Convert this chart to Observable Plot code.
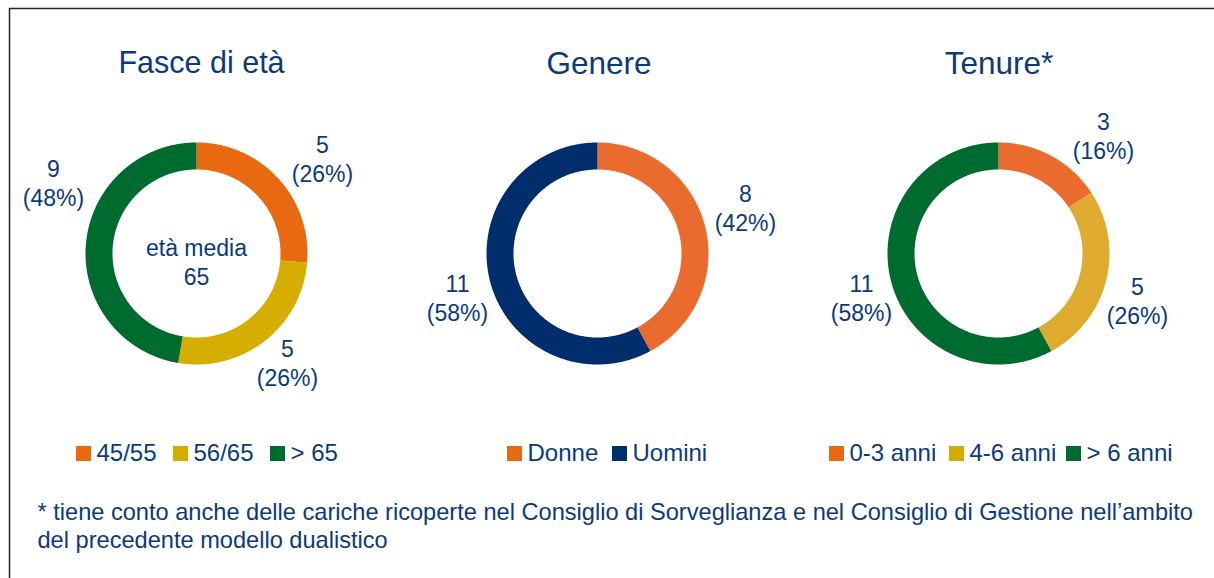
<!DOCTYPE html>
<html>
<head>
<meta charset="utf-8">
<script src="https://cdn.jsdelivr.net/npm/d3@7"></script>
<script src="https://cdn.jsdelivr.net/npm/@observablehq/plot@0.6"></script>
<style>
  html, body { margin: 0; padding: 0; background: #ffffff; }
  #chart svg { display: block; }
</style>
</head>
<body>
<div id="chart"></div>
<script>
// ---------------- data ----------------
const titles = ["Fasce di età", "Genere", "Tenure*"];

const ageCategories = ["45/55", "56/65", "> 65"];
const ageValues = [5, 5, 9];
const agePercents = [26, 26, 48];

const genderCategories = ["Donne", "Uomini"];
const genderValues = [8, 11];
const genderPercents = [42, 58];

const tenureCategories = ["0-3 anni", "4-6 anni", "> 6 anni"];
const tenureValues = [3, 5, 11];
const tenurePercents = [16, 26, 58];

const centerNote = ["età media", "65"];

const footnoteLines = [
  "* tiene conto anche delle cariche ricoperte nel Consiglio di Sorveglianza e nel Consiglio di Gestione nell\u2019ambito",
  "del precedente modello dualistico"
];

// ---------------- styles / layout ----------------
const W = 1214, H = 578;
const textColor = "#0B3A7A";
const font = "'Liberation Sans', Arial, Helvetica, sans-serif";
const R_OUT = 111, R_IN = 84;

const panels = [
  {
    title: titles[0], cats: ageCategories, vals: ageValues, pcts: agePercents,
    cx: 196, cy: 253, titleX: 201, titleSize: 30.5,
    colors: ["#E8690F", "#D6AE00", "#006B2F"],
    legendColors: ["#E8690F", "#D4AC00", "#006B2F"],
    labelPos: [[322, 158], [287, 362], [53, 182]],
    legendX: [76, 173, 270]
  },
  {
    title: titles[1], cats: genderCategories, vals: genderValues, pcts: genderPercents,
    cx: 597, cy: 253, titleX: 598.5, titleSize: 31.5,
    colors: ["#EB6B2E", "#002E6D"],
    legendColors: ["#E8690F", "#002E6D"],
    labelPos: [[745, 207], [457, 297]],
    legendX: [507, 612]
  },
  {
    title: titles[2], cats: tenureCategories, vals: tenureValues, pcts: tenurePercents,
    cx: 998, cy: 253, titleX: 998.5, titleSize: 31.5,
    colors: ["#EB6B2E", "#DEAB2F", "#006B2F"],
    legendColors: ["#E8690F", "#D4AC00", "#006B2F"],
    labelPos: [[1103, 135], [1137, 300], [861, 297]],
    legendX: [829, 949, 1066]
  }
];

// ---------------- build marks ----------------
function arcPoints(cx, cy, r0, r1, a0, a1) {
  const pts = [];
  const n = Math.max(2, Math.ceil((a1 - a0) / (Math.PI / 360)));
  for (let i = 0; i <= n; i++) {
    const a = a0 + (a1 - a0) * i / n;
    pts.push({x: cx + r1 * Math.sin(a), y: cy - r1 * Math.cos(a)});
  }
  for (let i = n; i >= 0; i--) {
    const a = a0 + (a1 - a0) * i / n;
    pts.push({x: cx + r0 * Math.sin(a), y: cy - r0 * Math.cos(a)});
  }
  return pts;
}

const marks = [];

// frame lines
marks.push(Plot.ruleY([8], {x1: 9, x2: W, stroke: "#222", strokeWidth: 1.5}));
marks.push(Plot.ruleX([9], {y1: 8, y2: H, stroke: "#222", strokeWidth: 1.5}));

const labelData = [], legendText = [], legendRects = [];

panels.forEach(p => {
  const total = d3.sum(p.vals);
  let acc = 0;
  p.vals.forEach((v, i) => {
    const a0 = acc / total * 2 * Math.PI;
    acc += v;
    const a1 = acc / total * 2 * Math.PI;
    marks.push(Plot.line(arcPoints(p.cx, p.cy, R_IN, R_OUT, a0, a1), {
      x: "x", y: "y", fill: p.colors[i], stroke: "none", curve: "linear"
    }));
    labelData.push({x: p.labelPos[i][0], y: p.labelPos[i][1], text: `${v}\n(${p.pcts[i]}%)`});
    legendRects.push({x1: p.legendX[i], x2: p.legendX[i] + 15, y1: 446, y2: 461, fill: p.legendColors[i]});
    legendText.push({x: p.legendX[i] + 20, y: 453, text: p.cats[i]});
  });
  marks.push(Plot.text([{x: p.titleX, y: 63, text: p.title}], {x: "x", y: "y", text: "text", fontSize: p.titleSize, fill: textColor, textAnchor: "middle"}));
});

marks.push(Plot.text(labelData, {x: "x", y: "y", text: "text", fontSize: 23, lineHeight: 1.27, fill: textColor, textAnchor: "middle"}));
marks.push(Plot.text([{x: panels[0].cx, y: 261, text: centerNote.join("\n")}], {x: "x", y: "y", text: "text", fontSize: 23, lineHeight: 1.22, fill: textColor, textAnchor: "middle"}));
marks.push(Plot.rect(legendRects, {x1: "x1", x2: "x2", y1: "y1", y2: "y2", fill: d => d.fill}));
marks.push(Plot.text(legendText, {x: "x", y: "y", text: "text", fontSize: 24, fill: textColor, textAnchor: "start"}));
marks.push(Plot.text(footnoteLines.map((t, i) => ({x: 37, y: 512 + i * 28, text: t})),
  {x: "x", y: "y", text: "text", fontSize: 23.6, fill: textColor, textAnchor: "start"}));

const chart = Plot.plot({
  width: W,
  height: H,
  margin: 0,
  x: {domain: [0, W], range: [0, W], axis: null},
  y: {domain: [0, H], range: [0, H], axis: null},
  color: {type: "identity"},
  style: {background: "#ffffff", fontFamily: font, overflow: "visible"},
  marks
});
document.getElementById("chart").appendChild(chart);
</script>
</body>
</html>
